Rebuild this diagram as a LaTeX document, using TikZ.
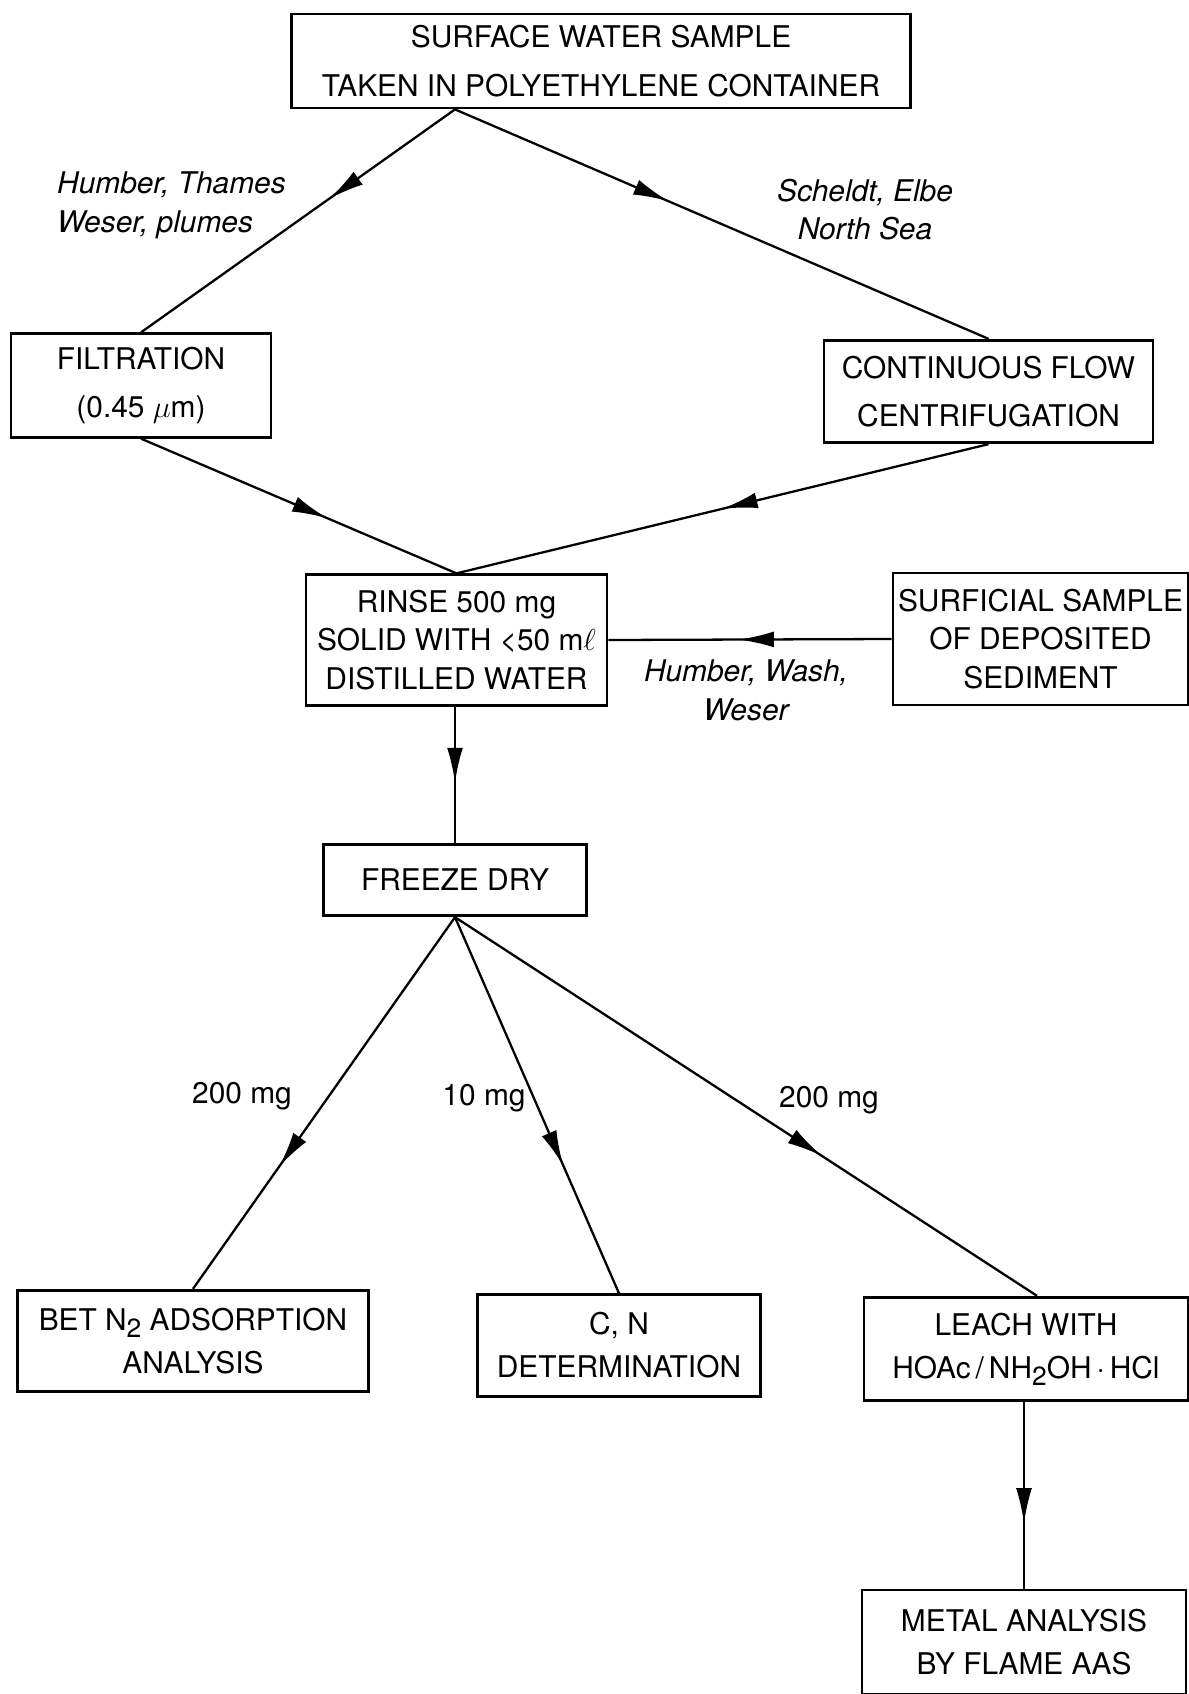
\documentclass[tikz,border=0pt]{standalone}
\usepackage{fontspec}
\setmainfont{TeX Gyre Heros}
\usepackage{tikz}
\usetikzlibrary{arrows.meta,decorations.markings}

\newcommand{\lowtwo}{\raisebox{-0.45ex}{\fontsize{15}{15}\selectfont 2}}

\begin{document}
\begin{tikzpicture}[
  box/.style={draw, line width=1.6pt, align=center, inner sep=2pt,
    font=\fontsize{17}{22}\selectfont},
  lbl/.style={font=\fontsize{17}{22}\selectfont\itshape},
  qty/.style={font=\fontsize{17}{22}\selectfont},
  flow/.style={line width=1.3pt, postaction={decorate},
    decoration={markings, mark=at position #1 with {\arrow{Latex[length=20pt,width=9pt]}}}}
]
\useasboundingbox (0,0) rectangle (23.78,-33.88);

\node[box, minimum width=12.38cm, minimum height=1.88cm] (top) at (12.02,-1.22)
  {SURFACE WATER SAMPLE\\[5.5pt] TAKEN IN POLYETHYLENE CONTAINER};

\node[box, minimum width=5.2cm, minimum height=2.07cm] (filt) at (2.82,-7.71)
  {FILTRATION\\[5pt] (0.45 $\mu$m)};
\node[box, minimum width=6.58cm, minimum height=2.05cm] (cont) at (19.77,-7.83)
  {CONTINUOUS FLOW\\[5pt] CENTRIFUGATION};

\node[box, minimum width=6.02cm, minimum height=2.61cm] (rinse) at (9.13,-12.80)
  {RINSE 500 mg\\ SOLID WITH {<}50 m$\ell$\\ DISTILLED WATER};
\node[box, minimum width=5.9cm, minimum height=2.64cm, inner sep=1pt] (surf) at (20.81,-12.78)
  {SURFICIAL SAMPLE\\ OF DEPOSITED\\ SEDIMENT};

\node[box, minimum width=5.25cm, minimum height=1.43cm] (freeze) at (9.10,-17.60)
  {FREEZE DRY};

\node[box, minimum width=7.02cm, minimum height=2.03cm] (bet) at (3.86,-26.82)
  {BET N\lowtwo\ ADSORPTION\\[2.5pt] ANALYSIS};
\node[box, minimum width=5.66cm, minimum height=2.03cm] (cn) at (12.38,-26.91)
  {C, N\\[2.5pt] DETERMINATION};
\node[box, minimum width=6.48cm, minimum height=2.07cm] (leach) at (20.52,-26.98)
  {LEACH WITH\\[2.5pt] HOAc\,/\,NH\lowtwo OH\,·\,HCl};
\node[box, minimum width=6.48cm, minimum height=2.08cm] (metal) at (20.48,-32.84)
  {METAL ANALYSIS\\[2.5pt] BY FLAME AAS};

\node[lbl, align=left, anchor=west] (srcA) at (1.02,-4.11) {Humber, Thames\\ Weser, plumes};
\node[lbl, align=center] (srcB) at (17.30,-4.19) {Scheldt, Elbe\\ North Sea};
\node[lbl, align=center] (srcC) at (14.92,-13.81) {Humber, Wash,\\ Weser};

\node[qty] (mgA) at (4.84,-21.92) {200 mg};
\node[qty] (mgB) at (9.68,-21.96) {10 mg};
\node[qty] (mgC) at (16.58,-22.00) {200 mg};

\coordinate (split) at (top.south -| freeze.north);
\draw[flow=0.4] (split) -- (filt.north);
\draw[flow=0.4] (split) -- (cont.north);
\draw[flow=0.59] (filt.south) -- (rinse.north);
\draw[flow=0.5] (cont.south) -- (rinse.north);
\draw[flow=0.54] (surf.west) -- (rinse.east);
\draw[flow=0.56] (freeze.north |- rinse.south) -- (freeze.north);
\draw[flow=0.67] (freeze.south) -- (bet.north);
\draw[flow=0.66] (freeze.south) -- (cn.north);
\draw[flow=0.63] (freeze.south) -- ([xshift=0.22cm]leach.north);
\draw[flow=0.65] (metal.north |- leach.south) -- (metal.north);
\end{tikzpicture}
\end{document}
